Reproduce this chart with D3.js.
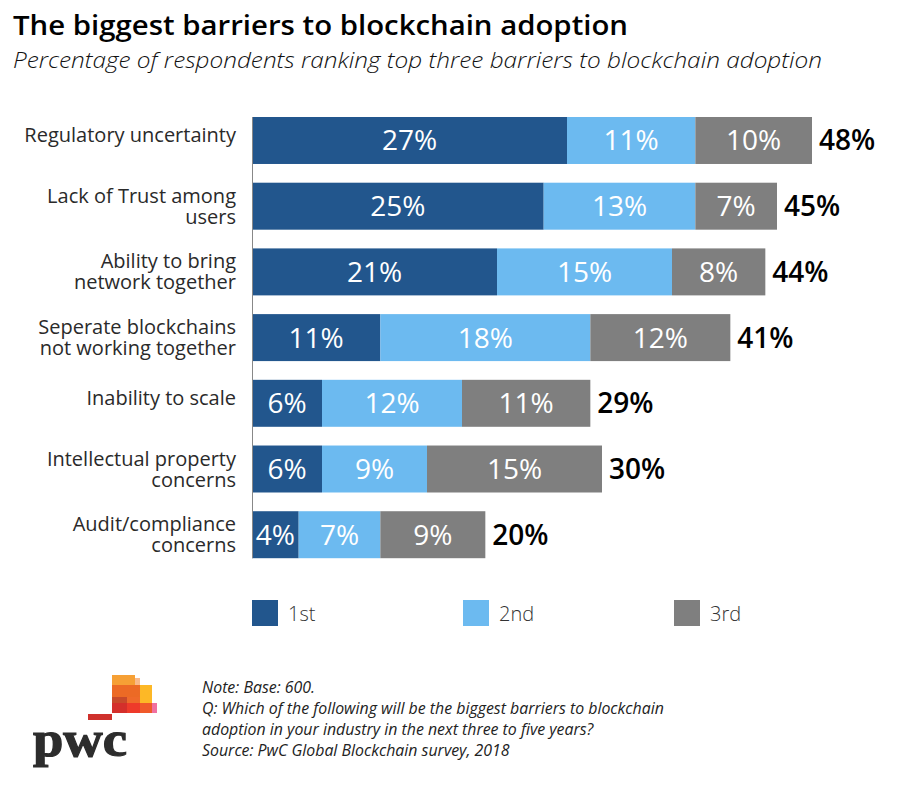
<!DOCTYPE html>
<html><head><meta charset="utf-8">
<script src="https://cdn.jsdelivr.net/npm/d3@7"></script>
<style>body{margin:0;background:#fff;} svg{display:block;font-family:"Open Sans",sans-serif;}</style>
</head><body>
<svg id="c" width="913" height="796"></svg>
<script>
const categories = [
  ["Regulatory uncertainty"],
  ["Lack of Trust among","users"],
  ["Ability to bring","network together"],
  ["Seperate blockchains","not working together"],
  ["Inability to scale"],
  ["Intellectual property","concerns"],
  ["Audit/compliance","concerns"]
];
const first = [27,25,21,11,6,6,4];
const second = [11,13,15,18,12,9,7];
const third = [10,7,8,12,11,15,9];
const totals = [48,45,44,41,29,30,20];
const seriesNames = ["1st","2nd","3rd"];
const colors = ["#22568d","#6cbaf0","#7f7f7f"];
const noteLines = [
  "Note: Base: 600.",
  "Q: Which of the following will be the biggest barriers to blockchain",
  "adoption in your industry in the next three to five years?",
  "Source: PwC Global Blockchain survey, 2018"
];

const svg = d3.select("#c");
const keys = categories.map((c,i)=>i);
const x = d3.scaleLinear().domain([0,48]).range([252,812]);
const y = d3.scaleBand().domain(keys).range([117,558.2]).paddingInner(0.285).paddingOuter(0);

svg.append("text").attr("x",13).attr("y",35).attr("font-size",27).attr("font-weight",600)
  .attr("fill","#000").attr("textLength",615).attr("lengthAdjust","spacingAndGlyphs").text("The biggest barriers to blockchain adoption");
svg.append("text").attr("x",13).attr("y",68).attr("font-size",22).attr("font-style","italic").attr("font-weight",300)
  .attr("fill","#111").attr("textLength",809).attr("lengthAdjust","spacingAndGlyphs").text("Percentage of respondents ranking top three barriers to blockchain adoption");

const data = keys.map(i=>({i, v:[first[i],second[i],third[i]]}));
const g = svg.append("g");
data.forEach(d=>{
  let acc=0;
  d.v.forEach((v,j)=>{
    const x0=x(acc), x1=x(acc+v);
    g.append("rect").attr("x",x0).attr("y",y(d.i)).attr("width",x1-x0).attr("height",y.bandwidth()).attr("fill",colors[j]);
    g.append("text").attr("x",(x0+x1)/2).attr("y",y(d.i)+y.bandwidth()/2+10).attr("text-anchor","middle")
      .attr("font-size",28).attr("font-weight",500).attr("fill","#fff").text(v+"%");
    acc+=v;
  });
  g.append("text").attr("x",x(acc)+7).attr("y",y(d.i)+y.bandwidth()/2+10).attr("font-size",28).attr("font-weight",600)
    .attr("fill","#000").text(totals[d.i]+"%");
  const lines = categories[d.i];
  const cy = y(d.i)+y.bandwidth()/2;
  lines.forEach((l,k)=>{
    const yy = lines.length===1 ? cy+1.5 : cy-3.5+ (k*21);
    g.append("text").attr("text-anchor","end").attr("font-size",20).attr("fill","#2a2a2a")
      .attr("x",236).attr("y",yy).text(l);
  });
});
svg.append("line").attr("x1",252.5).attr("x2",252.5).attr("y1",y(0)).attr("y2",y(6)+y.bandwidth()).attr("stroke","#888").attr("stroke-width",1);

// legend
const legX = [252,463,674];
seriesNames.forEach((n,j)=>{
  svg.append("rect").attr("x",legX[j]).attr("y",600).attr("width",26).attr("height",26).attr("fill",colors[j]);
  svg.append("text").attr("x",legX[j]+36).attr("y",620.5).attr("font-size",20).attr("font-weight",300).attr("fill","#333").text(n);
});

// note
noteLines.forEach((l,k)=>{
  svg.append("text").attr("x",202).attr("y",693+k*21).attr("font-size",15.9).attr("font-style","italic").attr("fill","#222").text(l);
});

// logo
const logo = svg.append("g");
const rects = [
  [112,675,23,10,"#f6a035"],
  [135,678,5,7,"#f9b98a"],
  [112,685,28,12,"#ec6a25"],
  [140,685,12,18,"#fdb826"],
  [112,697,15,6,"#c84a2a"],
  [127,697,13,6,"#ef6a2a"],
  [112,703,15,10,"#d42f2b"],
  [127,703,13,10,"#ee3a2a"],
  [140,703,12,10,"#f05a2a"],
  [152,703,5,10,"#f070a0"],
  [88,714,24,6,"#cf312c"]
];
rects.forEach(r=>logo.append("rect").attr("x",r[0]).attr("y",r[1]).attr("width",r[2]).attr("height",r[3]).attr("fill",r[4]));
logo.append("text").attr("x",33).attr("y",756).attr("font-family","'Liberation Serif',serif").attr("font-weight",700)
  .attr("font-size",50).attr("fill","#2d2d2d").attr("stroke","#2d2d2d").attr("stroke-width",1.2)
  .attr("textLength",94).attr("lengthAdjust","spacingAndGlyphs").text("pwc");
</script>
</body></html>
